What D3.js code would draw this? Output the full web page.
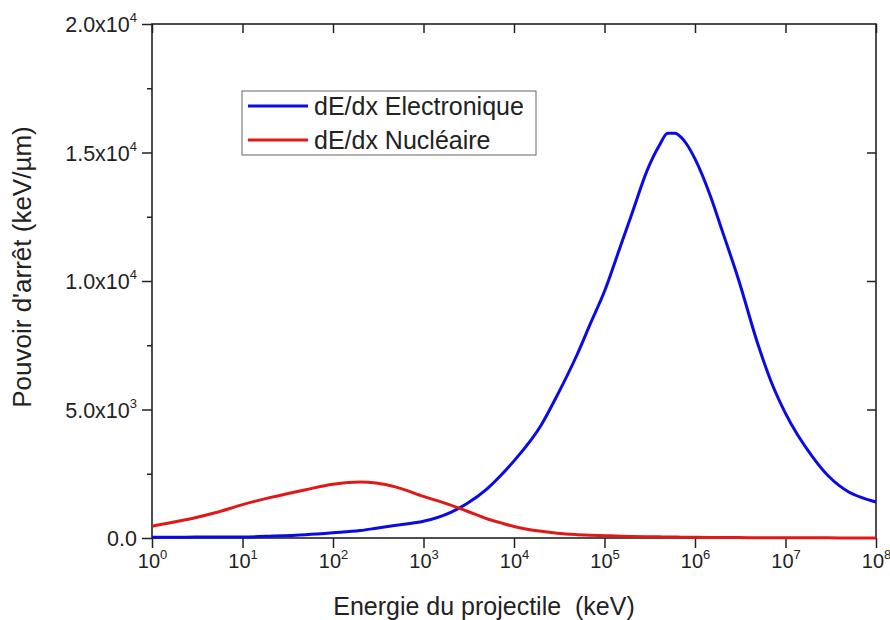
<!DOCTYPE html>
<html>
<head>
<meta charset="utf-8">
<script src="https://cdn.jsdelivr.net/npm/d3@7"></script>
<style>
  html, body { margin: 0; padding: 0; background: #fff; }
  svg { display: block; font-family: "Liberation Sans", Arial, sans-serif; }
  text { white-space: pre; }
</style>
</head>
<body>
<svg id="chart" width="890" height="620"></svg>
<script>
// ---- data ----
const energies = [1, 2, 3, 5, 10, 20, 50, 100, 200, 300, 500, 1000, 2000, 3000, 5000, 7000,
  1e4, 2e4, 3e4, 5e4, 7e4, 1e5, 1.5e5, 2e5, 3e5, 4e5, 5e5, 6e5, 7e5, 8e5, 1e6, 1.5e6, 2e6,
  3e6, 5e6, 7e6, 1e7, 2e7, 3e7, 5e7, 7e7, 1e8];
const electronic = [30, 33, 35, 37, 42, 70, 125, 200, 290, 380, 500, 650, 1000, 1330, 1900, 2400,
  3000, 4400, 5550, 7150, 8350, 9600, 11350, 12600, 14350, 15250, 15750, 15750, 15600, 15350, 14750, 13250, 11950,
  10100, 7500, 6050, 4850, 3150, 2400, 1790, 1570, 1400];
const nuclear = [460, 660, 790, 980, 1300, 1570, 1880, 2090, 2180, 2140, 1980, 1620, 1280, 1050, 750, 600,
  450, 260, 185, 130, 105, 90, 72, 62, 50, 44, 39, 36, 33, 31, 27, 22, 19,
  15, 12, 10, 8, 6, 5, 4, 3, 2];
const seriesNames = ["dE/dx Electronique", "dE/dx Nucléaire"];
const seriesColors = ["#0a0ae6", "#e01818"];
const xTickValues = [1, 10, 100, 1e3, 1e4, 1e5, 1e6, 1e7, 1e8];
const xTickExponents = ["0", "1", "2", "3", "4", "5", "6", "7", "8"];
const yMajorTicks = [0, 5000, 10000, 15000, 20000];
const yMinorTicks = [2500, 7500, 12500, 17500];
const yTickMantissas = ["0.0", "5.0x10", "1.0x10", "1.5x10", "2.0x10"];
const yTickExponents = ["", "3", "4", "4", "4"];
const xTitle = "Energie du projectile  (keV)";
const yTitle = "Pouvoir d'arrêt (keV/µm)";

// ---- layout ----
const L = 152, R = 876, T = 24, B = 538;
const svg = d3.select("#chart");
const x = d3.scaleLog().domain([1, 1e8]).range([L, R]);
const y = d3.scaleLinear().domain([0, 20000]).range([B, T]);

// axes
const gx = svg.append("g").attr("transform", `translate(0,${B})`)
  .call(d3.axisBottom(x).tickValues(xTickValues).tickSize(10).tickSizeOuter(0).tickFormat(() => ""));
gx.select(".domain").remove();
gx.selectAll(".tick line").attr("stroke", "#222").attr("stroke-width", 1.5);
gx.selectAll(".tick").each(function(d, i) {
  const t = d3.select(this).append("text")
    .attr("y", 30).attr("fill", "#222").attr("font-size", 20).attr("text-anchor", "middle");
  t.append("tspan").text("10");
  t.append("tspan").attr("dy", -9).attr("font-size", 13).text(xTickExponents[i]);
});

const gxt = svg.append("g").attr("transform", `translate(0,${T})`)
  .call(d3.axisTop(x).tickValues(xTickValues).tickSize(-9).tickSizeOuter(0).tickFormat(() => ""));
gxt.select(".domain").remove();
gxt.selectAll(".tick line").attr("stroke", "#222").attr("stroke-width", 1.5);

const gy = svg.append("g").attr("transform", `translate(${L},0)`)
  .call(d3.axisLeft(y).tickValues(yMajorTicks).tickSize(10).tickSizeOuter(0).tickFormat(() => ""));
gy.select(".domain").remove();
gy.selectAll(".tick line").attr("stroke", "#222").attr("stroke-width", 1.5);
gy.selectAll(".tick").each(function(d, i) {
  const t = d3.select(this).append("text")
    .attr("x", -15).attr("dy", "0.35em").attr("fill", "#222").attr("font-size", 21.5).attr("text-anchor", "end");
  t.append("tspan").text(yTickMantissas[i]);
  if (yTickExponents[i]) t.append("tspan").attr("dy", -10).attr("font-size", 13).text(yTickExponents[i]);
});
const gym = svg.append("g").attr("transform", `translate(${L},0)`)
  .call(d3.axisLeft(y).tickValues(yMinorTicks).tickSize(5).tickSizeOuter(0).tickFormat(() => ""));
gym.select(".domain").remove();
gym.selectAll(".tick line").attr("stroke", "#222").attr("stroke-width", 1.5);

const gyr = svg.append("g").attr("transform", `translate(${R},0)`)
  .call(d3.axisRight(y).tickValues(yMajorTicks.slice(1, -1)).tickSize(-9).tickSizeOuter(0).tickFormat(() => ""));
gyr.select(".domain").remove();
gyr.selectAll(".tick line").attr("stroke", "#222").attr("stroke-width", 1.5);

// frame
svg.append("rect").attr("x", L).attr("y", T).attr("width", R - L).attr("height", B - T)
  .attr("fill", "none").attr("stroke", "#222").attr("stroke-width", 1.6);

// curves
const line = d3.line().x(d => x(d[0])).y(d => y(d[1])).curve(d3.curveMonotoneX);
const series = [electronic, nuclear];
series.forEach((vals, i) => {
  svg.append("path")
    .datum(energies.map((e, j) => [e, vals[j]]))
    .attr("fill", "none").attr("stroke", seriesColors[i]).attr("stroke-width", 3)
    .attr("stroke-linejoin", "round")
    .attr("d", line);
});

// axis titles
svg.append("text").attr("x", 484).attr("y", 615).attr("text-anchor", "middle")
  .attr("font-size", 25).attr("fill", "#222").text(xTitle);
svg.append("text").attr("transform", "translate(31,267) rotate(-90)").attr("text-anchor", "middle")
  .attr("font-size", 26).attr("fill", "#222").text(yTitle);

// legend
const lg = svg.append("g");
lg.append("rect").attr("x", 242).attr("y", 91).attr("width", 294).attr("height", 64)
  .attr("fill", "#fff").attr("stroke", "#666").attr("stroke-width", 1);
seriesNames.forEach((name, i) => {
  const cy = 106 + i * 34;
  lg.append("line").attr("x1", 248).attr("x2", 308).attr("y1", cy).attr("y2", cy)
    .attr("stroke", seriesColors[i]).attr("stroke-width", 3);
  lg.append("text").attr("x", 314).attr("y", cy).attr("dy", "0.35em")
    .attr("font-size", 25).attr("fill", "#222").text(name);
});
</script>
</body>
</html>
